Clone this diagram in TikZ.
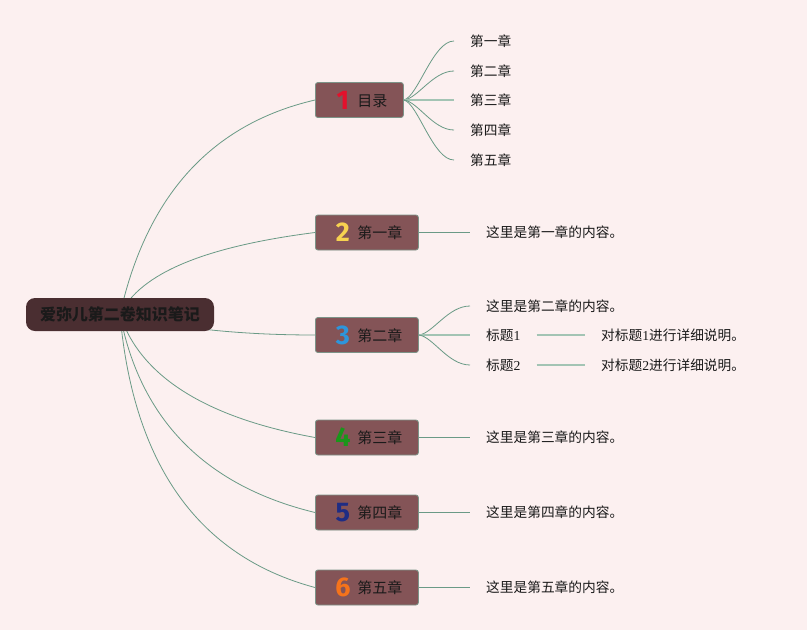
\documentclass[tikz,border=0pt]{standalone}
\usepackage{fontspec}
\setmainfont{Noto Sans CJK SC}
\newfontfamily\numfont{Fira Sans}
\newfontfamily\digserif{Liberation Serif}
\usetikzlibrary{backgrounds}
\definecolor{bgc}{HTML}{FCF0F0}
\definecolor{rootc}{HTML}{4A2E31}
\definecolor{boxc}{HTML}{845457}
\definecolor{boxline}{HTML}{7C9488}
\definecolor{lineg}{HTML}{6A9A86}
\definecolor{lineh}{HTML}{A3C4B4}
\definecolor{n1}{HTML}{E3112C}
\definecolor{n2}{HTML}{F7D250}
\definecolor{n3}{HTML}{2D95DB}
\definecolor{n4}{HTML}{1A961A}
\definecolor{n5}{HTML}{1F2D84}
\definecolor{n6}{HTML}{F5731B}
\definecolor{txt}{HTML}{1A1A1A}
\newcommand\chlabel[3]{\hspace*{20pt}\makebox[15pt]{\raisebox{-3pt}{\color{#1}\numfont\bfseries\fontsize{27}{27}\selectfont #2}}\hspace{7pt}{\fontsize{15}{18}\selectfont #3}\hspace*{16pt}}
\newcommand\dg[1]{{\digserif #1}}
\tikzset{
  conn/.style={draw=lineg, line width=0.8pt},
  connh/.style={draw=lineh, line width=1.6pt},
  rootbox/.style={fill=rootc, rounded corners=9pt, minimum width=188pt, minimum height=33pt, inner sep=0pt, text=txt, font=\fontsize{16}{19}\selectfont\bfseries},
  chbox/.style={fill=boxc, draw=boxline, line width=0.8pt, rounded corners=2.5pt, minimum height=35pt, anchor=west, inner xsep=0pt, inner ysep=0pt, text=txt},
  leaf/.style={anchor=west, inner xsep=16pt, inner ysep=2pt, text=txt, font=\fontsize{13.7}{16}\selectfont},
}
\begin{document}
\begin{tikzpicture}[x=1pt,y=-1pt]
\useasboundingbox (0,0) rectangle (807,630);
\begin{pgfonlayer}{background}
\fill[bgc] (0,0) rectangle (807,630);
\end{pgfonlayer}
% root
\node[rootbox] (root) at (120,314.5) {爱弥儿第二卷知识笔记};
% chapter boxes
\node[chbox] (b1) at (315,100) {\chlabel{n1}{1}{目录}};
\node[chbox] (b2) at (315,232.5) {\chlabel{n2}{2}{第一章}};
\node[chbox] (b3) at (315,335) {\chlabel{n3}{3}{第二章}};
\node[chbox] (b4) at (315,437.5) {\chlabel{n4}{4}{第三章}};
\node[chbox] (b5) at (315,512.5) {\chlabel{n5}{5}{第四章}};
\node[chbox] (b6) at (315,587.5) {\chlabel{n6}{6}{第五章}};
% leaves of b1
\node[leaf] (l11) at (454,41) {第一章};
\node[leaf] (l12) at (454,71) {第二章};
\node[leaf] (l13) at (454,100) {第三章};
\node[leaf] (l14) at (454,130) {第四章};
\node[leaf] (l15) at (454,160) {第五章};
% leaves of b2
\node[leaf] (l21) at (470,232.5) {这里是第一章的内容。};
% leaves of b3
\node[leaf] (l31) at (470,306) {这里是第二章的内容。};
\node[leaf] (t1) at (470,335) {标题\dg{1}};
\node[leaf] (t2) at (470,365) {标题\dg{2}};
\node[leaf] (d1) at (585,335) {对标题\dg{1}进行详细说明。};
\node[leaf] (d2) at (585,365) {对标题\dg{2}进行详细说明。};
% leaves of b4..b6
\node[leaf] (l41) at (470,437.5) {这里是第三章的内容。};
\node[leaf] (l51) at (470,512.5) {这里是第四章的内容。};
\node[leaf] (l61) at (470,587.5) {这里是第五章的内容。};
\begin{pgfonlayer}{background}
% root connectors
\draw[conn] (root.center) .. controls +(26.7,-119.3) and +(-103.3,24) .. (b1.west);
\draw[conn] (root.center) .. controls +(20,-41.3) and +(-110,14) .. (b2.west);
\draw[conn] (root.center) .. controls +(53.3,13.3) and +(-76.7,0) .. (b3.west);
\draw[conn] (root.center) .. controls +(20,61.3) and +(-110,-20) .. (b4.west);
\draw[conn] (root.center) .. controls +(20,104.7) and +(-110,-26.7) .. (b5.west);
\draw[conn] (root.center) .. controls +(13.3,150) and +(-116.7,-31.3) .. (b6.west);
% b1 fan
\draw[conn] (b1.east) .. controls +(14,-3) and +(-21,0) .. (l11.west);
\draw[conn] (b1.east) .. controls +(14,-1.5) and +(-21,0) .. (l12.west);
\draw[connh] (b1.east) -- (l13.west);
\draw[conn] (b1.east) .. controls +(14,1.5) and +(-21,0) .. (l14.west);
\draw[conn] (b1.east) .. controls +(14,3) and +(-21,0) .. (l15.west);
% b2
\draw[conn] (b2.east) -- (l21.west);
% b3
\draw[conn] (b3.east) .. controls +(14,-1.5) and +(-22,0) .. (l31.west);
\draw[connh] (b3.east) -- (t1.west);
\draw[conn] (b3.east) .. controls +(14,1.5) and +(-22,0) .. (t2.west);
\draw[connh] (t1.east) -- (d1.west);
\draw[connh] (t2.east) -- (d2.west);
% b4..b6
\draw[conn] (b4.east) -- (l41.west);
\draw[conn] (b5.east) -- (l51.west);
\draw[conn] (b6.east) -- (l61.west);
\end{pgfonlayer}
\end{tikzpicture}
\end{document}
